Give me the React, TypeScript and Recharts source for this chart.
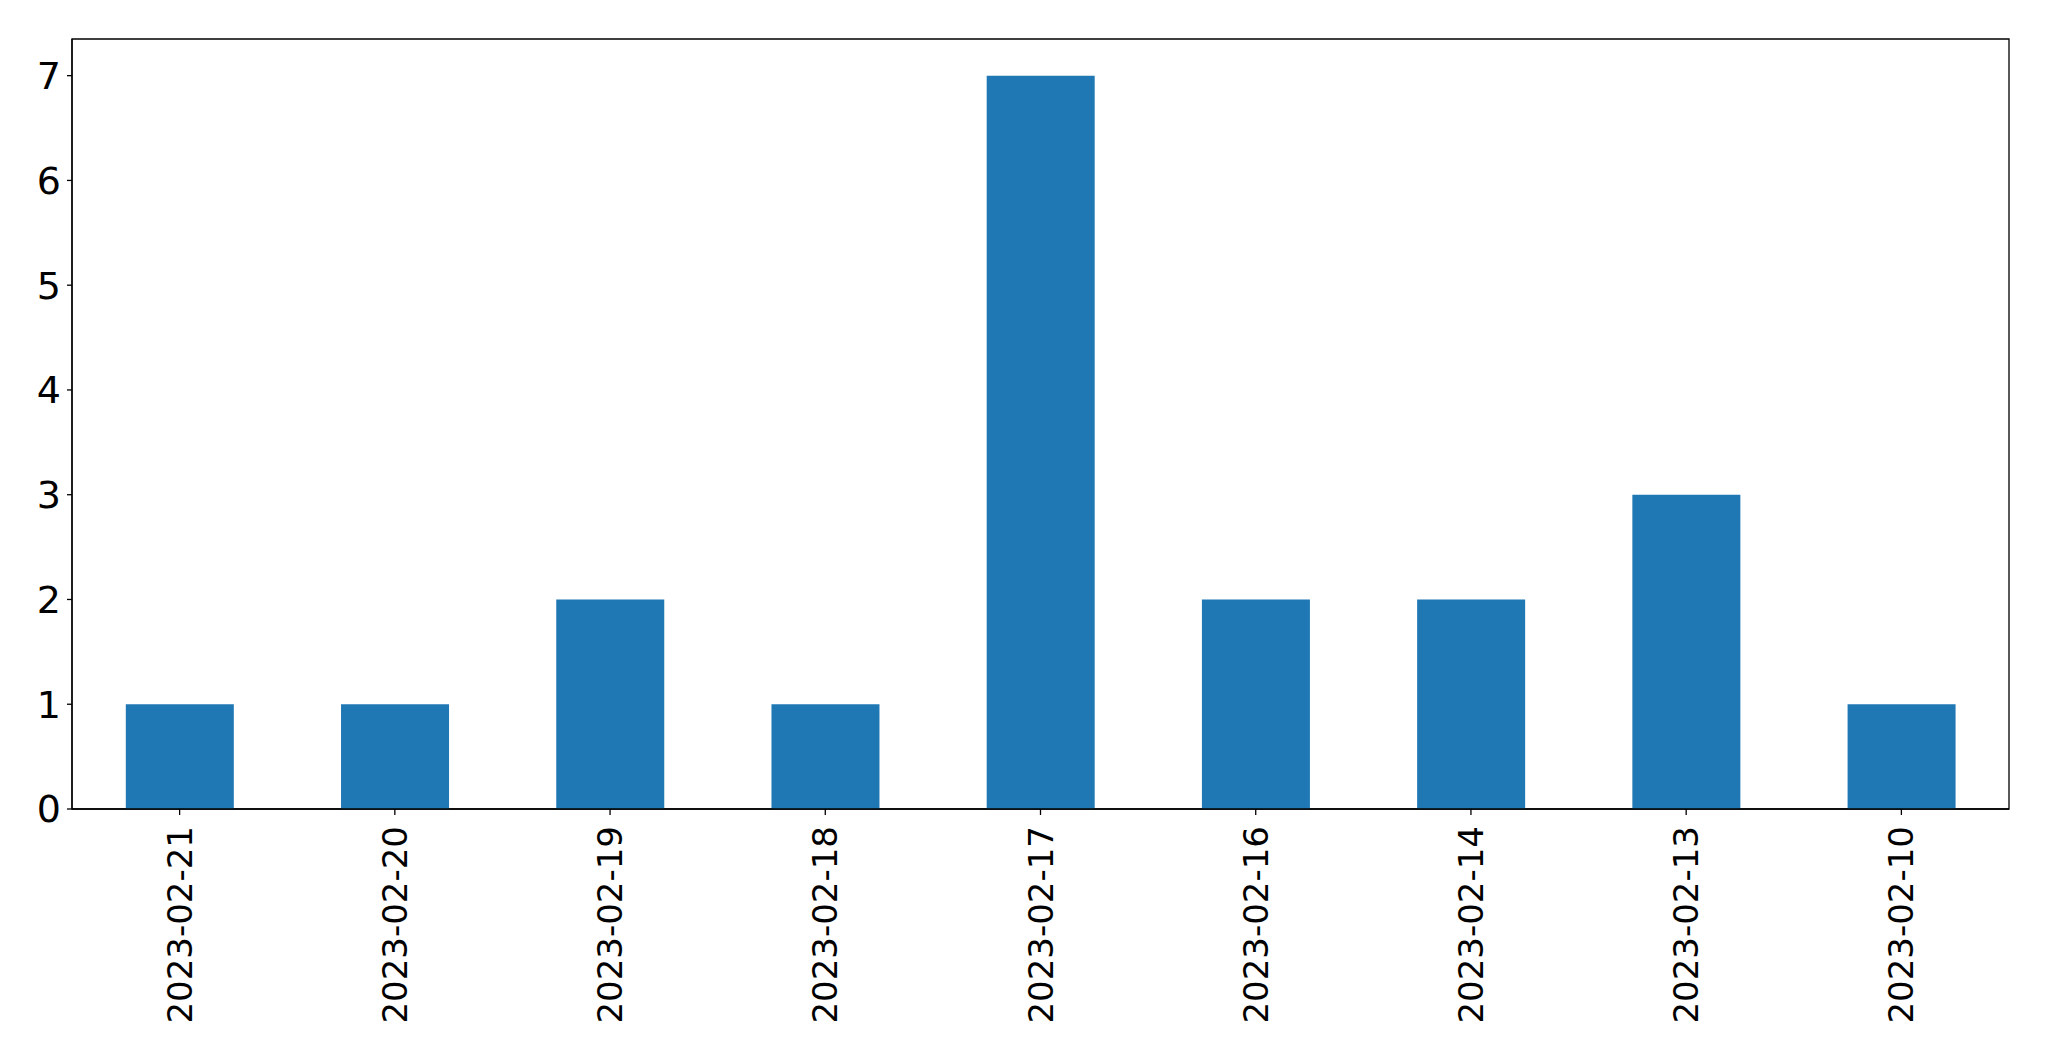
import { Bar, BarChart, ReferenceArea, XAxis, YAxis } from "recharts";

const dates = [
  "2023-02-21",
  "2023-02-20",
  "2023-02-19",
  "2023-02-18",
  "2023-02-17",
  "2023-02-16",
  "2023-02-14",
  "2023-02-13",
  "2023-02-10",
];
const counts = [1, 1, 2, 1, 7, 2, 2, 3, 1];
const yTicks = [0, 1, 2, 3, 4, 5, 6, 7];
const yMax = 7.35;

const chartData = dates.map((date, i) => ({ date, count: counts[i] }));

const font = "'DejaVu Sans', sans-serif";

function DateTick({ x, y, payload }: any) {
  return (
    <g transform={`translate(${x},${y})`}>
      <text
        transform="rotate(-90)"
        textAnchor="end"
        dominantBaseline="central"
        fontSize={34}
        fontFamily={font}
        fill="#000"
      >
        {payload.value}
      </text>
    </g>
  );
}

export default function App() {
  return (
    <BarChart
      width={2033}
      height={1045}
      data={chartData}
      margin={{ top: 31, right: 32, left: 0, bottom: 0 }}
      barCategoryGap="25%"
    >
      <XAxis
        dataKey="date"
        height={244}
        interval={0}
        tick={<DateTick />}
        tickSize={6}
        tickMargin={11}
        axisLine={{ stroke: "#000", strokeWidth: 1.3 }}
        tickLine={{ stroke: "#000", strokeWidth: 1.3 }}
      />
      <YAxis
        width={64}
        domain={[0, yMax]}
        ticks={yTicks}
        interval={0}
        tickSize={5}
        tickMargin={6}
        tick={{ fontSize: 38, fill: "#000", fontFamily: font }}
        axisLine={{ stroke: "#000", strokeWidth: 1.3 }}
        tickLine={{ stroke: "#000", strokeWidth: 1.3 }}
      />
      <Bar dataKey="count" fill="#1f77b4" isAnimationActive={false} />
      <ReferenceArea
        y1={0}
        y2={yMax}
        fill="none"
        stroke="#000"
        strokeWidth={1.3}
        fillOpacity={0}
      />
    </BarChart>
  );
}
